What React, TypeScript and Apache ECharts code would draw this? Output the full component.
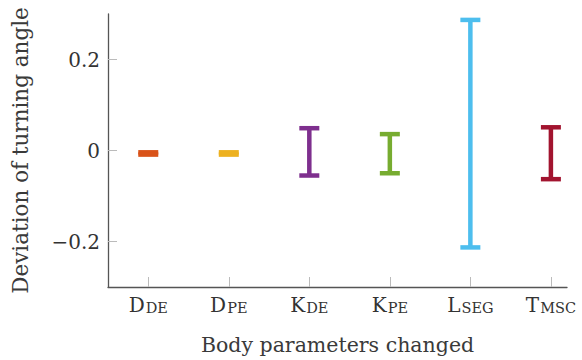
import React, { useEffect, useRef } from "react";
import * as echarts from "echarts";

const categories = ["{m|D}{s|DE}", "{m|D}{s|PE}", "{m|K}{s|DE}", "{m|K}{s|PE}", "{m|L}{s|SEG}", "{m|T}{s|MSC}"];
const positions = [1, 2, 3, 4, 5, 6];
const lowerValues = [-0.009, -0.009, -0.055, -0.05, -0.213, -0.063];
const upperValues = [-0.004, -0.004, 0.049, 0.036, 0.287, 0.051];
const colors = ["#D95319", "#EDB120", "#7E2F8E", "#77AC30", "#4DBEEE", "#A2142F"];
const yTicks = [-0.2, 0, 0.2];

const FONT = "'DejaVu Serif', 'Liberation Serif', serif";

export default function App() {
  const ref = useRef<HTMLDivElement>(null);
  useEffect(() => {
    if (!ref.current) return;
    const chart = echarts.init(ref.current, null, { renderer: "svg" });
    const data = positions.map((p, i) => [p, lowerValues[i], upperValues[i], i]);
    chart.setOption({
      animation: false,
      grid: { left: 108, right: 15, top: 14, bottom: 72 },
      xAxis: {
        type: "value",
        min: 0.5,
        max: 6.2,
        splitLine: { show: false },
        axisLine: { show: true, onZero: false, lineStyle: { color: "#555", width: 1.3 } },
        axisTick: {
          show: true,
          inside: true,
          length: 10,
          customValues: positions,
          lineStyle: { color: "#bbb" },
        },
        axisLabel: {
          customValues: positions,
          margin: 7,
          formatter: (v: number) => categories[Math.round(v) - 1] ?? "",
          fontFamily: FONT,
          fontSize: 20,
          color: "#333",
          rich: {
            m: { fontSize: 20, fontFamily: FONT, color: "#333" },
            s: { fontSize: 14.5, fontFamily: FONT, color: "#333", padding: [6, 0, 0, 1] },
          },
        },
        name: "Body parameters changed",
        nameLocation: "middle",
        nameGap: 47,
        nameTextStyle: { fontFamily: FONT, fontSize: 20.5, color: "#3a3a3a" },
      },
      yAxis: {
        type: "value",
        min: -0.3,
        max: 0.3,
        splitLine: { show: false },
        axisLine: { show: true, onZero: false, lineStyle: { color: "#555", width: 1.3 } },
        axisTick: {
          show: true,
          inside: true,
          length: 9,
          customValues: yTicks,
          lineStyle: { color: "#bbb" },
        },
        axisLabel: {
          customValues: yTicks,
          margin: 8,
          formatter: (v: number) => (v < 0 ? "\u2212" + Math.abs(v) : String(v)),
          fontFamily: FONT,
          fontSize: 20,
          color: "#333",
        },
        name: "Deviation of turning angle",
        nameLocation: "middle",
        nameGap: 77,
        nameRotate: 90,
        nameTextStyle: { fontFamily: FONT, fontSize: 21.5, color: "#3a3a3a" },
      },
      series: [
        {
          type: "custom",
          data,
          encode: { x: 0, y: [1, 2] },
          renderItem: (params: any, api: any) => {
            const x = api.value(0);
            const lo = api.coord([x, api.value(1)]);
            const hi = api.coord([x, api.value(2)]);
            const color = colors[api.value(3)];
            const hw = 10;
            const style = { stroke: color, lineWidth: 4.5, fill: "none" };
            return {
              type: "group",
              children: [
                { type: "line", shape: { x1: lo[0], y1: lo[1], x2: hi[0], y2: hi[1] }, style },
                { type: "line", shape: { x1: hi[0] - hw, y1: hi[1], x2: hi[0] + hw, y2: hi[1] }, style },
                { type: "line", shape: { x1: lo[0] - hw, y1: lo[1], x2: lo[0] + hw, y2: lo[1] }, style },
              ],
            };
          },
        },
      ],
    });
    return () => chart.dispose();
  }, []);
  return (
    <div
      ref={ref}
      style={{ position: "absolute", left: 0, top: 0, width: 582, height: 360 }}
    />
  );
}
